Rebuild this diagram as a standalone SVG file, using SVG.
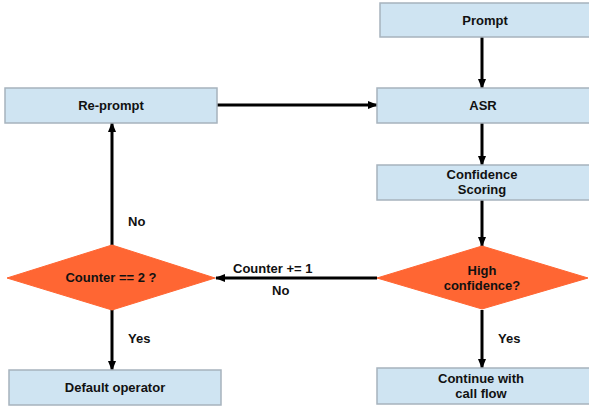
<svg xmlns="http://www.w3.org/2000/svg" width="589" height="406" viewBox="0 0 589 406">
<style>
.box{fill:#cfe4f2;stroke:#a7b3bd;stroke-width:1.5}
.dia{fill:#ff6633;stroke:#ff6633;stroke-width:1}
text{font-family:"Liberation Sans",Arial,sans-serif;font-weight:bold;font-size:13px;fill:#111;text-anchor:middle}
.lbl{text-anchor:start}
.c{stroke:#000;stroke-width:3;fill:none;marker-end:url(#ah)}
</style>
<defs>
<marker id="ah" markerWidth="10" markerHeight="8" refX="9" refY="4" orient="auto" markerUnits="userSpaceOnUse">
<path d="M0,0 L10,4 L0,8 Z" fill="#000"/>
</marker>
</defs>
<g id="connectors">
<line class="c" x1="482" y1="37" x2="482" y2="88"/>
<line class="c" x1="482" y1="123" x2="482" y2="165"/>
<line class="c" x1="482" y1="200" x2="482" y2="246"/>
<line class="c" x1="482" y1="310" x2="482" y2="368"/>
<line class="c" x1="377" y1="278" x2="216" y2="278"/>
<line class="c" x1="112" y1="310" x2="112" y2="370"/>
<line class="c" x1="112" y1="245" x2="112" y2="123"/>
<line class="c" x1="217" y1="105" x2="377" y2="105"/>
<text class="lbl" x="233" y="273">Counter += 1</text>
<text class="lbl" x="272" y="295">No</text>
<text class="lbl" x="128" y="343">Yes</text>
<text class="lbl" x="498" y="343">Yes</text>
<text class="lbl" x="128" y="226">No</text>
</g>
<g id="prompt"><rect class="box" x="380" y="3" width="210" height="34"/><text x="485" y="25">Prompt</text></g>
<g id="asr"><rect class="box" x="377" y="88" width="213" height="35"/><text x="483" y="110">ASR</text></g>
<g id="confidence"><rect class="box" x="377" y="165" width="213" height="35"/><text x="482" y="179">Confidence</text><text x="482" y="194">Scoring</text></g>
<g id="reprompt"><rect class="box" x="5" y="88" width="212" height="35"/><text x="111" y="110">Re-prompt</text></g>
<g id="high"><polygon class="dia" points="482,246 588,278 482,309 377,278"/><text x="482" y="275">High</text><text x="482" y="290">confidence?</text></g>
<g id="counter"><polygon class="dia" points="112,245 215,278 112,310 7,278"/><text x="111" y="282">Counter == 2 ?</text></g>
<g id="default"><rect class="box" x="9" y="370" width="212" height="35"/><text x="115" y="392">Default operator</text></g>
<g id="continue"><rect class="box" x="377" y="368" width="213" height="36"/><text x="481" y="383">Continue with</text><text x="481" y="398">call flow</text></g>
</svg>
